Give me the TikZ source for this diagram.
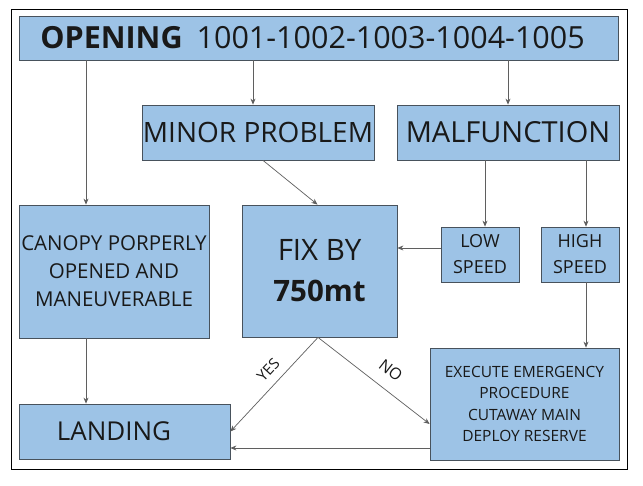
\documentclass[tikz,border=0pt]{standalone}
\usepackage{fontspec}
\setmainfont{Open Sans}
\usetikzlibrary{arrows.meta}
\definecolor{boxblue}{RGB}{157,195,230}
\definecolor{boxedge}{RGB}{72,82,92}
\definecolor{linegray}{RGB}{95,95,95}
\newcommand{\fs}[2]{\fontsize{#1}{#2}\selectfont}

\begin{document}
\begin{tikzpicture}[x=1pt,y=-1pt,
  >={Stealth[length=6pt,width=5pt]},
  box/.style={draw=boxedge, fill=boxblue, line width=0.8pt,
              inner sep=0pt, align=center, text=black!90},
  conn/.style={->, draw=linegray, line width=0.7pt}]
\useasboundingbox[fill=white] (0,0) rectangle (643,486);
\draw[line width=0.9pt] (11.7,9) rectangle (627,469);

\node[box, minimum width=599pt, minimum height=44pt, font=\fs{30.5}{36}] (Op) at (318.5,38)
  {\hspace*{-12pt}{\bfseries OPENING}\hspace{14pt}1001-1002-1003-1004-1005};
\node[box, minimum width=232pt, minimum height=55pt, font=\fs{28}{34}] (Mi) at (258,132.5)
  {MINOR PROBLEM};
\node[box, minimum width=222pt, minimum height=55pt, font=\fs{29}{36}] (Ma) at (508,132.5)
  {MALFUNCTION};
\node[box, minimum width=190pt, minimum height=133pt, font=\fs{20.5}{28}] (Ca) at (114,271.5)
  {CANOPY PORPERLY\\OPENED AND\\MANEUVERABLE};
\node[box, minimum width=155pt, minimum height=132pt, font=\fs{29.5}{41}] (Fx) at (319.5,271)
  {FIX BY\\\textbf{750mt}};
\node[box, minimum width=78pt, minimum height=55pt, font=\fs{18}{26}] (Lo) at (480,254.5)
  {LOW\\SPEED};
\node[box, minimum width=78pt, minimum height=55pt, font=\fs{18}{26}] (Hi) at (580,254.5)
  {HIGH\\SPEED};
\node[box, minimum width=189pt, minimum height=112pt, font=\fs{15.5}{21.3}] (Ex) at (524.5,404)
  {EXECUTE EMERGENCY\\PROCEDURE\\CUTAWAY MAIN\\DEPLOY RESERVE};
\node[box, minimum width=211pt, minimum height=55pt, font=\fs{26}{32}] (La) at (124.5,431.5)
  {\hspace*{-21pt}LANDING};

\draw[conn] ([xshift=-28pt]Ca.north |- Op.south) -- ([xshift=-28pt]Ca.north);
\draw[conn] ([xshift=-5pt]Mi.north |- Op.south) -- ([xshift=-5pt]Mi.north);
\draw[conn] (Ma.north |- Op.south) -- (Ma.north);
\draw[conn] ([xshift=5pt]Mi.south) -- ([xshift=-2pt]Fx.north);
\draw[conn] ([xshift=5pt]Lo.north |- Ma.south) -- ([xshift=5pt]Lo.north);
\draw[conn] ([xshift=6pt]Hi.north |- Ma.south) -- ([xshift=6pt]Hi.north);
\draw[conn] ([yshift=6.5pt]Lo.west) -- ([yshift=6.5pt]Lo.west -| Fx.east);
\draw[conn] ([xshift=6pt]Hi.south) -- ([xshift=6pt]Hi.south |- Ex.north);
\draw[conn] ([xshift=-28pt]Ca.south) -- ([xshift=-28pt]Ca.south |- La.north);
\draw[conn] ([xshift=-1.5pt]Fx.south) -- (La.east)
  node[pos=0.45, sloped, above=5pt, text=black!90, font=\fs{15}{18}] {YES};
\draw[conn] ([xshift=-1.5pt]Fx.south) -- ([yshift=-20pt]Ex.west)
  node[pos=0.55, sloped, above=9pt, text=black!90, font=\fs{16}{18}] {NO};
\draw[conn] ([yshift=-44pt]Ex.west) -- ([yshift=-44pt]Ex.west -| La.east);
\end{tikzpicture}
\end{document}
